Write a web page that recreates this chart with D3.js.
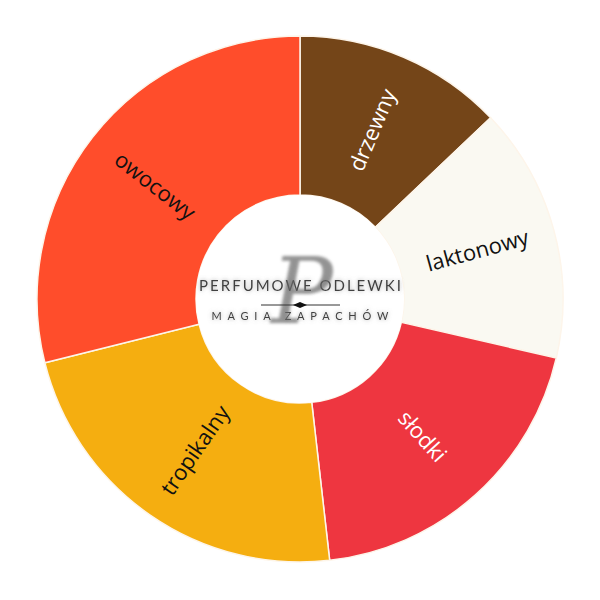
<!DOCTYPE html>
<html>
<head>
<meta charset="utf-8">
<script src="https://cdn.jsdelivr.net/npm/d3@7"></script>
<style>
  html, body { margin: 0; padding: 0; background: #fff; }
  svg { display: block; }
</style>
</head>
<body>
<svg id="chart" width="600" height="600"></svg>
<script>
// slices, clockwise from 12 o'clock
const categories = ['drzewny', 'laktonowy', 'słodki', 'tropikalny', 'owocowy'];
const values = [12.9, 15.7, 19.6, 22.9, 28.9];
const colors = ['#744518', '#faf9f2', '#ee3640', '#f5ae10', '#ff4d2b'];
const labelColors = ['#ffffff', '#111111', '#ffffff', '#111111', '#111111'];

const logoTop = 'PERFUMOWE ODLEWKI';
const logoBottom = 'MAGIA ZAPACHÓW';

const width = 600, height = 600;
const cx = 300, cy = 299;
const outerR = 263, innerR = 104;

const svg = d3.select('#chart');

const defs = svg.append('defs');
// soft glow behind the logo letters
const glow = defs.append('filter').attr('id', 'glow')
  .attr('x', '-20%').attr('y', '-50%').attr('width', '140%').attr('height', '200%');
glow.append('feGaussianBlur').attr('in', 'SourceAlpha').attr('stdDeviation', 2.2).attr('result', 'b');
glow.append('feFlood').attr('flood-color', '#8a8a8a').attr('flood-opacity', 0.75);
glow.append('feComposite').attr('in2', 'b').attr('operator', 'in').attr('result', 's');
const merge = glow.append('feMerge');
merge.append('feMergeNode').attr('in', 's');
merge.append('feMergeNode').attr('in', 'SourceGraphic');

const blur = defs.append('filter').attr('id', 'blurP')
  .attr('x', '-30%').attr('y', '-30%').attr('width', '160%').attr('height', '160%');
blur.append('feGaussianBlur').attr('stdDeviation', 1.6);

const g = svg.append('g').attr('transform', `translate(${cx},${cy})`);

const pie = d3.pie().sort(null).value(d => d.value);
const arcs = pie(categories.map((c, i) => ({ name: c, value: values[i], i })));

const arc = d3.arc().innerRadius(innerR).outerRadius(outerR);
const labelArc = d3.arc().innerRadius(innerR + 80).outerRadius(innerR + 80);

g.selectAll('path.slice')
  .data(arcs)
  .join('path')
  .classed('slice', true)
  .attr('d', arc)
  .attr('fill', d => colors[d.data.i])
  .attr('stroke', '#fdf5ea')
  .attr('stroke-width', 1.5);

// labels run along the radius, flipped on the left half so they stay readable
g.selectAll('text.label')
  .data(arcs)
  .join('text')
  .classed('label', true)
  .attr('transform', d => {
    const [x, y] = labelArc.centroid(d);
    const mid = (d.startAngle + d.endAngle) / 2 * 180 / Math.PI;
    const rot = mid > 180 ? mid - 270 : mid - 90;
    return `translate(${x},${y}) rotate(${rot})`;
  })
  .attr('text-anchor', 'middle')
  .attr('dy', '0.35em')
  .style('font-family', '"Open Sans", sans-serif')
  .style('font-size', '22px')
  .style('fill', d => labelColors[d.data.i])
  .text(d => d.data.name);

// centre logo
g.append('circle').attr('r', innerR).attr('fill', '#fff');

const logo = g.append('g');

logo.append('text')
  .attr('x', 0).attr('y', -8)
  .attr('text-anchor', 'middle')
  .attr('dx', 1)
  .style('font-family', 'Lato, sans-serif')
  .style('font-size', '15px')
  .style('letter-spacing', '2px')
  .style('fill', '#404040')
  .attr('filter', 'url(#glow)')
  .text(logoTop);

logo.append('text')
  .attr('x', 0).attr('y', 21)
  .attr('text-anchor', 'middle')
  .attr('dx', 2.8)
  .style('font-family', 'Lato, sans-serif')
  .style('font-size', '11px')
  .style('letter-spacing', '5.8px')
  .style('fill', '#404040')
  .attr('filter', 'url(#glow)')
  .text(logoBottom);

// the big script letter on top
logo.append('text')
  .attr('x', 2).attr('y', 24)
  .attr('text-anchor', 'middle')
  .style('font-family', '"DejaVu Serif", serif')
  .style('font-style', 'italic')
  .style('font-size', '92px')
  .style('fill', '#666')
  .style('opacity', 0.7)
  .attr('filter', 'url(#blurP)')
  .text('P');

logo.append('line')
  .attr('x1', -39).attr('x2', 40).attr('y1', 6).attr('y2', 6)
  .attr('stroke', '#333').attr('stroke-width', 1);

logo.append('path')
  .attr('d', 'M-7,6 L0,3 L7,6 L0,9 Z')
  .attr('fill', '#111');
</script>
</body>
</html>
